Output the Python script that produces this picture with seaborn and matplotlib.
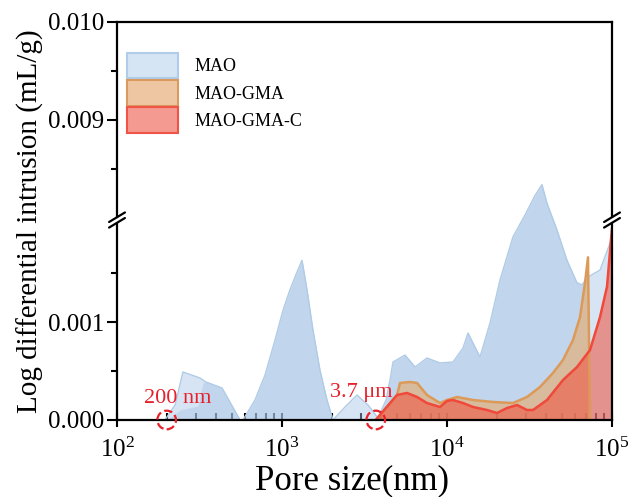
import numpy as np
import pandas as pd
import seaborn as sns
import matplotlib
matplotlib.use("Agg")
import matplotlib.pyplot as plt
from matplotlib.patches import Patch

# ---- data: log differential intrusion vs pore size ----
# MAO outer envelope
mao_x = [195, 225, 251, 318, 346, 433, 557, 580, 686, 789, 907, 1014, 1118, 1233, 1322,
         1418, 1541, 1699, 1874, 2038, 2409, 2848, 3320, 3818, 4269, 4513, 4706, 5566,
         6401, 7565, 9071, 10875, 12503, 13404, 14375, 15849, 18221, 20960, 25119,
         29703, 34147, 37640, 40373, 46416, 53367, 61376, 65807, 71537, 84590, 100000]
mao_y = [0.0, 0.000153, 0.00049, 0.000429, 0.000388, 0.000327, 0.0, 0.0, 0.000204,
         0.000459, 0.000816, 0.00112, 0.00133, 0.00151, 0.00163, 0.00133, 0.000918,
         0.00051, 0.000204, 0.0, 0.000133, 0.000255, 0.000153, 0.0000204, 0.000204,
         0.000408, 0.000592, 0.000663, 0.000541, 0.000633, 0.000582, 0.000592,
         0.000735, 0.000888, 0.000786, 0.000643, 0.00099, 0.00143, 0.00187,
         0.00803, 0.00823, 0.00834, 0.00815, 0.00194, 0.00163, 0.0014, 0.00138,
         0.00146, 0.00153, 0.00186]
# MAO repeated (overlapping) segments of the curve
mao2_x = [201, 241, 310, 332, 346, 433, 557, 580, 686, 789, 907, 1014, 1118, 1233, 1322,
          1418, 1541, 1699, 1874, 2038, 3818, 4269, 4513, 4706, 5566, 6401, 7565, 9071,
          10875, 12503, 13404, 14375, 15849, 18221, 20960, 25119, 29703, 34147, 37640,
          40373, 46416, 53367, 61376, 65807, 71537, 71540]
mao2_y = [0.0, 0.000102, 0.000143, 0.000378, 0.000388, 0.000327, 0.0, 0.0, 0.000204,
          0.000459, 0.000816, 0.00112, 0.00133, 0.00151, 0.00163, 0.00133, 0.000918,
          0.00051, 0.000204, 0.0, 0.0000204, 0.000204, 0.000408, 0.000592, 0.000663,
          0.000541, 0.000633, 0.000582, 0.000592, 0.000735, 0.000888, 0.000786,
          0.000643, 0.00099, 0.00143, 0.00187, 0.00803, 0.00823, 0.00834, 0.00815,
          0.00194, 0.00163, 0.0014, 0.00138, 0.00146, 0.0]
# MAO-GMA
gma_x = [3700, 4977, 5191, 5967, 6580, 7565, 9071, 10000, 11499, 14375, 19002, 25119,
         30546, 36610, 43893, 50466, 58016, 63996, 68614, 71537, 73564]
gma_y = [0.0, 0.000255, 0.000378, 0.000388, 0.000378, 0.000255, 0.000173, 0.000204,
         0.000235, 0.000204, 0.000184, 0.000173, 0.000235, 0.000337, 0.000480,
         0.000612, 0.000816, 0.00105, 0.00140, 0.00166, 0.0]
# MAO-GMA-C
gmac_x = [3700, 4977, 5722, 6580, 7565, 9071, 10000, 10875, 12503, 14375, 17475, 20090,
          23099, 26560, 30546, 33205, 40373, 50466, 61376, 73564, 84590, 93260, 100000]
gmac_y = [0.0, 0.000255, 0.000276, 0.000235, 0.000173, 0.000133, 0.000194, 0.000204,
          0.000173, 0.000133, 0.000102, 0.0000714, 0.000122, 0.000153, 0.000102,
          0.000102, 0.000204, 0.000408, 0.000541, 0.000714, 0.00105, 0.00136, 0.00196]

series = ["MAO", "MAO-GMA", "MAO-GMA-C"]
marks_x = [200, 3700]
marks_text = ["200 nm", "3.7 \u03bcm"]

yticks = [0.0, 0.001, 0.009, 0.010]
ytick_labels = ["0.000", "0.001", "0.009", "0.010"]

# ---- broken y axis as a piecewise-linear scale ----
B1, B2, GAP = 0.002041, 0.00798, 1e-6


def fwd(y):
    y = np.asarray(y, dtype=float)
    return np.where(y <= B1, y,
                    np.where(y >= B2, y - (B2 - B1) + GAP,
                             B1 + (y - B1) * GAP / (B2 - B1)))


def inv(t):
    t = np.asarray(t, dtype=float)
    return np.where(t <= B1, t,
                    np.where(t >= B1 + GAP, t + (B2 - B1) - GAP,
                             B1 + (t - B1) * (B2 - B1) / GAP))


sns.set_style("ticks")
plt.rcParams["font.family"] = ["Liberation Serif", "DejaVu Serif"]
plt.rcParams["mathtext.fontset"] = "custom"
plt.rcParams["mathtext.rm"] = "Liberation Serif"
plt.rcParams["mathtext.it"] = "Liberation Serif:italic"
for key in ("text.color", "axes.labelcolor", "xtick.color", "ytick.color",
            "axes.edgecolor"):
    plt.rcParams[key] = "black"

fig = plt.figure(figsize=(6.31, 4.97), dpi=100)
ax = fig.add_axes([117 / 631, 77 / 497, 495 / 631, 398 / 497])
ax.set_xscale("log")
ax.set_yscale("function", functions=(fwd, inv))

blue = "#a8c4e6"
orange = "#e8a868"
red = "#f0503c"

ax.fill_between(mao_x, mao_y, 0, color=blue, alpha=0.45, lw=0)
ax.fill_between(mao2_x, mao2_y, 0, color=blue, alpha=0.45, lw=0)
ax.fill_between(gma_x, gma_y, 0, color=orange, alpha=0.6, lw=0)
ax.fill_between(gmac_x, gmac_y, 0, color=red, alpha=0.55, lw=0)

df_mao = pd.DataFrame({"x": mao_x, "y": mao_y})
df_gma = pd.DataFrame({"x": gma_x, "y": gma_y})
df_gmac = pd.DataFrame({"x": gmac_x, "y": gmac_y})
sns.lineplot(data=df_mao, x="x", y="y", ax=ax, color="#afcbe6", lw=1.0,
             sort=False, estimator=None)
sns.lineplot(data=df_gma, x="x", y="y", ax=ax, color="#dc9a58", lw=1.8,
             sort=False, estimator=None)
sns.lineplot(data=df_gmac, x="x", y="y", ax=ax, color="#f0483a", lw=1.8,
             sort=False, estimator=None)

ax.set_xlim(100, 100000)
ax.set_ylim(0, 0.010)

# annotations: dashed circles with labels
ax.scatter(marks_x, [0, 0], s=180, facecolors="none", edgecolors="#e8202a",
           linewidths=1.6, linestyles="--", zorder=6, clip_on=False)
ax.text(234, 0.000122, marks_text[0], color="#e8202a", fontsize=16,
        ha="center", va="bottom")
ax.text(3013, 0.000184, marks_text[1], color="#e8202a", fontsize=16,
        ha="center", va="bottom")

# ticks
ax.set_yticks(yticks)
ax.set_yticklabels(ytick_labels)
ax.set_yticks([0.0005, 0.0015, 0.0085, 0.0095], minor=True)
ax.tick_params(axis="y", which="major", direction="out", length=7, width=1.5,
               labelsize=18, pad=2, colors="black")
ax.tick_params(axis="y", which="minor", direction="out", length=4, width=1.5,
               colors="black")
ax.tick_params(axis="x", which="major", direction="inout", length=10, width=1.5,
               labelsize=18, pad=8, colors="black")
ax.tick_params(axis="x", which="minor", direction="in", length=5, width=1.5,
               colors="black")
ax.xaxis.set_minor_locator(matplotlib.ticker.LogLocator(base=10, subs=np.arange(2, 10)))
ax.xaxis.set_minor_formatter(matplotlib.ticker.NullFormatter())
for s in ax.spines.values():
    s.set_linewidth(1.6)
    s.set_color("black")

ax.set_xlabel("Pore size(nm)", fontsize=25)
ax.xaxis.set_label_coords(0.474, -0.1734, transform=ax.transAxes)
ax.xaxis.label.set_va("baseline")
ax.set_ylabel("Log differential intrusion (mL/g)", fontsize=21, labelpad=3)

# axis break marks on both vertical spines
yb = float(fwd(B1) / fwd(0.010))
for xs in (0.0, 1.0):
    ax.plot([xs, xs], [yb - 0.006, yb + 0.006], transform=ax.transAxes, color="white",
            lw=3, clip_on=False, zorder=7, solid_capstyle="butt")
    for off in (-0.007, 0.007):
        ax.plot([xs - 0.016, xs + 0.016], [yb + off - 0.012, yb + off + 0.012],
                transform=ax.transAxes, color="black", lw=1.6, clip_on=False, zorder=8)

handles = [Patch(facecolor="#d6e5f4", edgecolor="#b0cce8", lw=1.5),
           Patch(facecolor="#efc6a2", edgecolor="#d99a5e", lw=1.5),
           Patch(facecolor="#f49a90", edgecolor="#ee5548", lw=1.5)]
ax.legend(handles, series, loc="upper left", bbox_to_anchor=(-0.002, 0.95),
          frameon=False, fontsize=13, handlelength=2.85, handleheight=1.8,
          labelspacing=0.1, handletextpad=0.9, borderaxespad=0.2)

fig.savefig("out.png", dpi=100)
